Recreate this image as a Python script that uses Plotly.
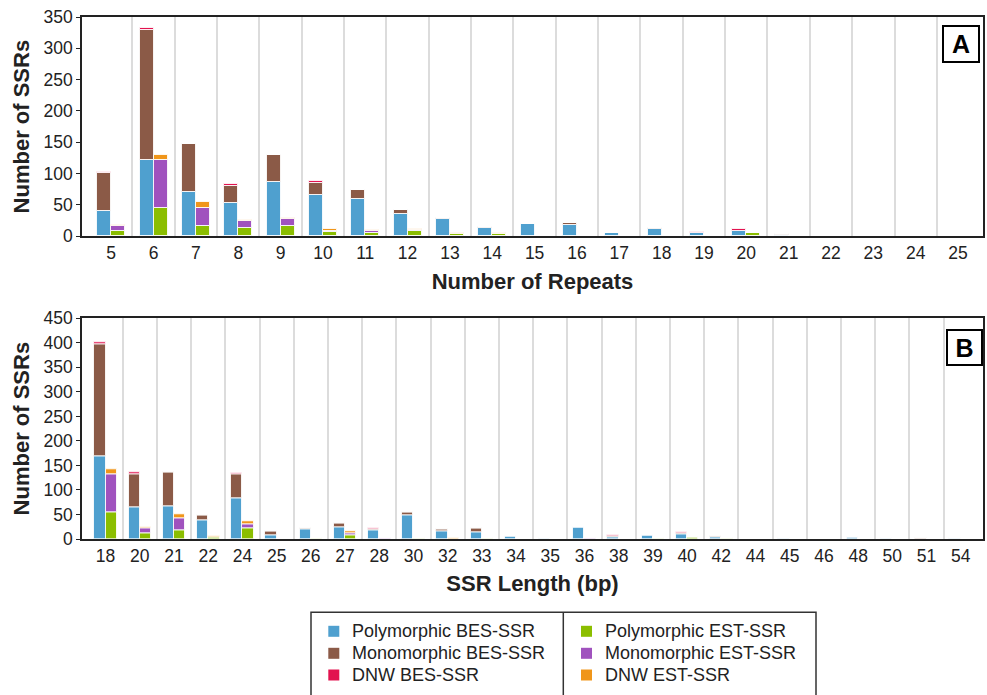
import plotly.graph_objects as go

# ---------------- Data ----------------
# Panel A: number of repeats
repeats = ["5", "6", "7", "8", "9", "10", "11", "12", "13", "14", "15",
           "16", "17", "18", "19", "20", "21", "22", "23", "24", "25"]
a_poly_bes = [40, 122, 71, 53, 87, 66, 59, 35, 28, 14, 20, 18, 5, 12, 5, 8, 2, 1, 0, 0, 1]
a_mono_bes = [61, 208, 76, 27, 42, 19, 15, 7, 2, 1, 0, 3, 1, 1, 1, 1, 2, 0, 0, 0, 0]
a_dnw_bes = [2, 3, 0, 3, 0, 3, 0, 0, 0, 0, 0, 1, 0, 0, 1, 2, 0, 0, 0, 0, 0]
a_poly_est = [8, 45, 16, 14, 16, 7, 6, 8, 4, 4, 1, 0, 0, 0, 0, 5, 0, 0, 0, 0, 0]
a_mono_est = [9, 77, 29, 10, 11, 1, 2, 2, 0, 0, 0, 0, 0, 0, 0, 0, 0, 0, 1, 0, 0]
a_dnw_est = [1, 8, 10, 2, 3, 3, 2, 1, 2, 1, 0, 1, 0, 1, 0, 0, 0, 0, 0, 0, 0]

# Panel B: SSR length (bp)
lengths = ["18", "20", "21", "22", "24", "25", "26", "27", "28", "30", "32", "33", "34",
           "35", "36", "38", "39", "40", "42", "44", "45", "46", "48", "50", "51", "54"]
b_poly_bes = [168, 65, 66, 39, 84, 8, 20, 24, 17, 49, 16, 14, 5, 1, 24, 4, 7, 10, 3, 0, 1, 0, 4, 1, 0, 1]
b_mono_bes = [229, 67, 70, 10, 47, 8, 1, 8, 3, 5, 3, 7, 0, 0, 0, 1, 0, 1, 3, 0, 0, 0, 0, 0, 1, 0]
b_dnw_bes = [5, 3, 0, 0, 3, 0, 0, 0, 1, 1, 0, 1, 0, 0, 0, 2, 0, 3, 0, 0, 0, 0, 0, 0, 0, 0]
b_poly_est = [54, 12, 17, 3, 21, 0, 1, 7, 0, 2, 0, 2, 0, 0, 0, 0, 2, 3, 2, 0, 0, 0, 0, 0, 0, 0]
b_mono_est = [78, 9, 26, 0, 10, 0, 0, 5, 1, 0, 0, 0, 0, 0, 2, 0, 0, 0, 0, 0, 0, 0, 0, 0, 0, 0]
b_dnw_est = [10, 3, 8, 3, 5, 0, 1, 4, 0, 0, 1, 0, 0, 0, 0, 0, 0, 0, 0, 0, 0, 0, 0, 0, 0, 0]

bes_names = ["Polymorphic BES-SSR", "Monomorphic BES-SSR", "DNW BES-SSR"]
est_names = ["Polymorphic EST-SSR", "Monomorphic EST-SSR", "DNW EST-SSR"]
bes_colors = ["#4FA0CF", "#8B5A47", "#E2134F"]
est_colors = ["#8BBE00", "#A052BE", "#F0961A"]

FONT = "Liberation Sans, Arial, Helvetica, sans-serif"
BAR_W = 0.33

W, H = 987, 695
ML, MR, MT, MB = 82, 4, 17, 156
PW = W - ML - MR
PH = H - MT - MB


def px_x(px):
    return (px - ML) / PW


def px_y(py):
    return (H - MB - py) / PH


fig = go.Figure()


def add_stack(cats, series, names, colors, xaxis, yaxis, offset):
    xs = list(range(len(cats)))
    base = [0] * len(cats)
    for vals, name, color in zip(series, names, colors):
        fig.add_trace(go.Bar(
            x=xs, y=vals, base=base, width=BAR_W, offset=offset,
            marker=dict(color=color, line=dict(color="rgba(255,255,255,0.85)", width=1)),
            name=name, xaxis=xaxis, yaxis=yaxis, showlegend=False,
        ))
        base = [b + v for b, v in zip(base, vals)]


add_stack(repeats, [a_poly_bes, a_mono_bes, a_dnw_bes], bes_names, bes_colors, "x", "y", -BAR_W)
add_stack(repeats, [a_poly_est, a_mono_est, a_dnw_est], est_names, est_colors, "x", "y", 0)
add_stack(lengths, [b_poly_bes, b_mono_bes, b_dnw_bes], bes_names, bes_colors, "x2", "y2", -BAR_W)
add_stack(lengths, [b_poly_est, b_mono_est, b_dnw_est], est_names, est_colors, "x2", "y2", 0)


def xax(cats, rng, title, anchor, standoff):
    return dict(
        domain=[0, 1], anchor=anchor, range=rng, automargin=False,
        tickmode="array", tickvals=list(range(len(cats))), ticktext=cats,
        tickfont=dict(size=17.5, color="#222", family=FONT),
        showgrid=False, zeroline=False, ticks="",
        minor=dict(tickmode="array", tickvals=[i + 0.5 for i in range(len(cats) - 1)],
                   showgrid=True, gridcolor="#DCDCDC", gridwidth=1.5, ticks=""),
        showline=True, mirror=True, linecolor="#222", linewidth=1.5,
        title=dict(text="<b>" + title + "</b>", font=dict(size=22, color="#222", family=FONT),
                   standoff=standoff),
    )


def yax(rng, dom, anchor):
    return dict(
        domain=dom, anchor=anchor, range=rng, dtick=50, automargin=False,
        tickfont=dict(size=17.5, color="#222", family=FONT),
        showgrid=False, zeroline=False, ticks="outside", ticklen=4, tickcolor="#222",
        showline=True, mirror=True, linecolor="#222", linewidth=1.5,
        title=dict(text="<b>Number of SSRs</b>", font=dict(size=22, color="#222", family=FONT),
                   standoff=8),
    )


# ---- custom two-column legend (box, swatches, text) ----
shapes = [
    dict(type="rect", xref="paper", yref="paper", x0=px_x(311), x1=px_x(816),
         y0=px_y(705), y1=px_y(612.3), line=dict(color="#333", width=1.5),
         fillcolor="rgba(0,0,0,0)", layer="below"),
    dict(type="line", xref="paper", yref="paper", x0=px_x(563.3), x1=px_x(563.3),
         y0=px_y(705), y1=px_y(612.3), line=dict(color="#333", width=1.5)),
]
annotations = []
row_y = [631.3, 653.3, 675.0]
for col_sw, col_tx, names, colors in [(328.3, 349.5, bes_names, bes_colors),
                                      (581.0, 602.8, est_names, est_colors)]:
    for ry, name, color in zip(row_y, names, colors):
        shapes.append(dict(type="rect", xref="paper", yref="paper",
                           x0=px_x(col_sw), x1=px_x(col_sw + 11),
                           y0=px_y(ry + 5.5), y1=px_y(ry - 5.5),
                           line=dict(width=0), fillcolor=color))
        annotations.append(dict(text=name, xref="paper", yref="paper", x=px_x(col_tx), y=px_y(ry),
                                xanchor="left", yanchor="middle", showarrow=False,
                                font=dict(size=18, color="#222", family=FONT)))

annotations += [
    dict(text="<b>A</b>", xref="paper", yref="paper", x=px_x(980), y=px_y(25), xanchor="right",
         yanchor="top", showarrow=False, font=dict(size=25, color="black", family=FONT),
         bordercolor="black", borderwidth=2, borderpad=0, width=34, height=34, bgcolor="white"),
    dict(text="<b>B</b>", xref="paper", yref="paper", x=px_x(982.5), y=px_y(329), xanchor="right",
         yanchor="top", showarrow=False, font=dict(size=25, color="black", family=FONT),
         bordercolor="black", borderwidth=2, borderpad=0, width=33, height=33, bgcolor="white"),
]

fig.update_layout(
    width=W, height=H,
    margin=dict(l=ML, r=MR, t=MT, b=MB, autoexpand=False),
    paper_bgcolor="white", plot_bgcolor="white",
    barmode="overlay", bargap=0, showlegend=False,
    font=dict(family=FONT, color="#222"),
    xaxis=xax(repeats, [-0.69, 20.59], "Number of Repeats", "y", 12),
    yaxis=yax([0, 350], [px_y(236.3), 1], "x"),
    xaxis2=xax(lengths, [-0.69, 25.65], "SSR Length (bp)", "y2", 11),
    yaxis2=yax([0, 450], [0, px_y(318.3)], "x2"),
    shapes=shapes,
    annotations=annotations,
)

fig.write_html(
    "out.html",
    config={"displayModeBar": False},
    post_script="document.body.style.margin='0';document.body.style.padding='0';"
                "document.documentElement.style.overflow='hidden';",
)
